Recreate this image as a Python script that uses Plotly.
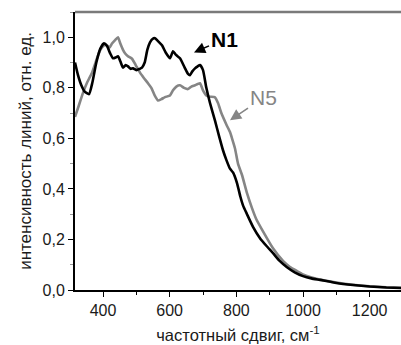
import plotly.graph_objects as go

# Raman spectra of two samples (normalised line intensity vs. frequency shift)
shift_n1 = [316, 325, 335, 345, 358, 368, 380, 392, 403, 412, 422, 430, 438, 445, 452,
            460, 468, 475, 483, 490, 500, 510, 517, 525, 533, 541, 550, 556, 565, 577,
            588, 601, 610, 619, 631, 645, 655, 661, 668, 676, 684, 691, 700, 710, 721,
            736, 748, 760, 770, 781, 790, 802, 812, 820, 832, 850, 871, 890, 910, 930,
            952, 975, 1000, 1025, 1051, 1100, 1150, 1200, 1250, 1295]
int_n1 = [0.90, 0.85, 0.81, 0.785, 0.775, 0.82, 0.90, 0.955, 0.976, 0.965, 0.935, 0.917,
          0.92, 0.925, 0.905, 0.88, 0.89, 0.885, 0.875, 0.877, 0.87, 0.875, 0.88, 0.90,
          0.95, 0.98, 0.995, 0.996, 0.985, 0.968, 0.94, 0.917, 0.945, 0.93, 0.917, 0.88,
          0.855, 0.85, 0.865, 0.877, 0.885, 0.89, 0.87, 0.80, 0.74, 0.67, 0.61, 0.553,
          0.515, 0.48, 0.465, 0.423, 0.37, 0.335, 0.30, 0.25, 0.205, 0.175, 0.146, 0.115,
          0.09, 0.07, 0.055, 0.046, 0.04, 0.028, 0.02, 0.014, 0.01, 0.008]

shift_n5 = [316, 325, 340, 352, 367, 382, 392, 400, 410, 420, 427, 437, 445, 452, 460,
            466, 475, 487, 498, 511, 522, 535, 545, 555, 565, 575, 586, 601, 610, 620,
            631, 643, 655, 665, 676, 684, 691, 700, 710, 720, 735, 745, 755, 770, 781,
            787, 796, 805, 817, 832, 847, 860, 880, 910, 940, 960, 982, 1000, 1050, 1100,
            1150, 1200, 1250, 1295]
int_n5 = [0.685, 0.72, 0.78, 0.82, 0.86, 0.917, 0.95, 0.965, 0.97, 0.96, 0.975, 0.99,
          1.0, 0.975, 0.95, 0.937, 0.925, 0.915, 0.89, 0.86, 0.84, 0.818, 0.80, 0.77,
          0.75, 0.755, 0.763, 0.77, 0.79, 0.805, 0.81, 0.80, 0.795, 0.805, 0.81, 0.815,
          0.818, 0.79, 0.77, 0.765, 0.763, 0.74, 0.70, 0.655, 0.625, 0.60, 0.56, 0.50,
          0.455, 0.383, 0.324, 0.28, 0.232, 0.165, 0.115, 0.092, 0.075, 0.062, 0.042,
          0.03, 0.021, 0.015, 0.011, 0.009]

x_ticks = [400, 600, 800, 1000, 1200]
y_ticks = [0.0, 0.2, 0.4, 0.6, 0.8, 1.0]

FONT = "Liberation Sans, Arial, sans-serif"
GRAY = "#858585"

fig = go.Figure()
fig.add_trace(go.Scatter(x=shift_n5, y=int_n5, mode="lines", name="N5",
                         line=dict(color=GRAY, width=2.6, shape="spline", smoothing=0.5)))
fig.add_trace(go.Scatter(x=shift_n1, y=int_n1, mode="lines", name="N1",
                         line=dict(color="black", width=2.6, shape="spline", smoothing=0.5)))

# curve labels with short pointer arrows
fig.add_annotation(x=673, y=0.94, xref="x", yref="y", text="<b>N1</b>",
                   ax=763, ay=0.992, axref="x", ayref="y",
                   showarrow=True, arrowhead=2, arrowsize=1.4, arrowwidth=1.6,
                   arrowcolor="black", font=dict(family=FONT, size=21, color="black"))
fig.add_annotation(x=781, y=0.672, xref="x", yref="y", text="N5",
                   ax=880, ay=0.76, axref="x", ayref="y",
                   showarrow=True, arrowhead=2, arrowsize=1.4, arrowwidth=1.6,
                   arrowcolor=GRAY, font=dict(family=FONT, size=21, color=GRAY))

# gray frame line along the top of the plot area
fig.add_shape(type="line", xref="paper", yref="paper", x0=0, x1=1, y0=1, y1=1,
              line=dict(color="#7a7a7a", width=2.5))

fig.update_layout(
    width=401, height=345,
    margin=dict(l=75, r=0, t=12, b=55),
    paper_bgcolor="white", plot_bgcolor="white",
    showlegend=False,
    separators=", ",
    font=dict(family=FONT, size=16, color="#1a1a1a"),
)
fig.update_xaxes(
    range=[316, 1294], tickvals=x_ticks, ticks="outside", ticklen=5, tickwidth=1,
    tickcolor="black", showline=True, linecolor="black", linewidth=1.6,
    showgrid=False, zeroline=False,
    minor=dict(dtick=100, ticks="outside", ticklen=3, tickcolor="black", showgrid=False),
    title=dict(text="частотный сдвиг, см<sup>-1</sup>", font=dict(size=16.5), standoff=11),
    tickfont=dict(size=16),
)
fig.update_yaxes(
    range=[0, 1.1], tickvals=y_ticks, tickformat=".1f", ticks="outside", ticklen=5,
    tickwidth=1, tickcolor="black", showline=True, linecolor="black", linewidth=2,
    showgrid=False, zeroline=False,
    minor=dict(dtick=0.1, ticks="outside", ticklen=3, tickcolor="#999999", showgrid=False),
    title=dict(text="интенсивность линий, отн. ед.", font=dict(size=17), standoff=7),
    tickfont=dict(size=16),
)

fig.write_html("out.html")
